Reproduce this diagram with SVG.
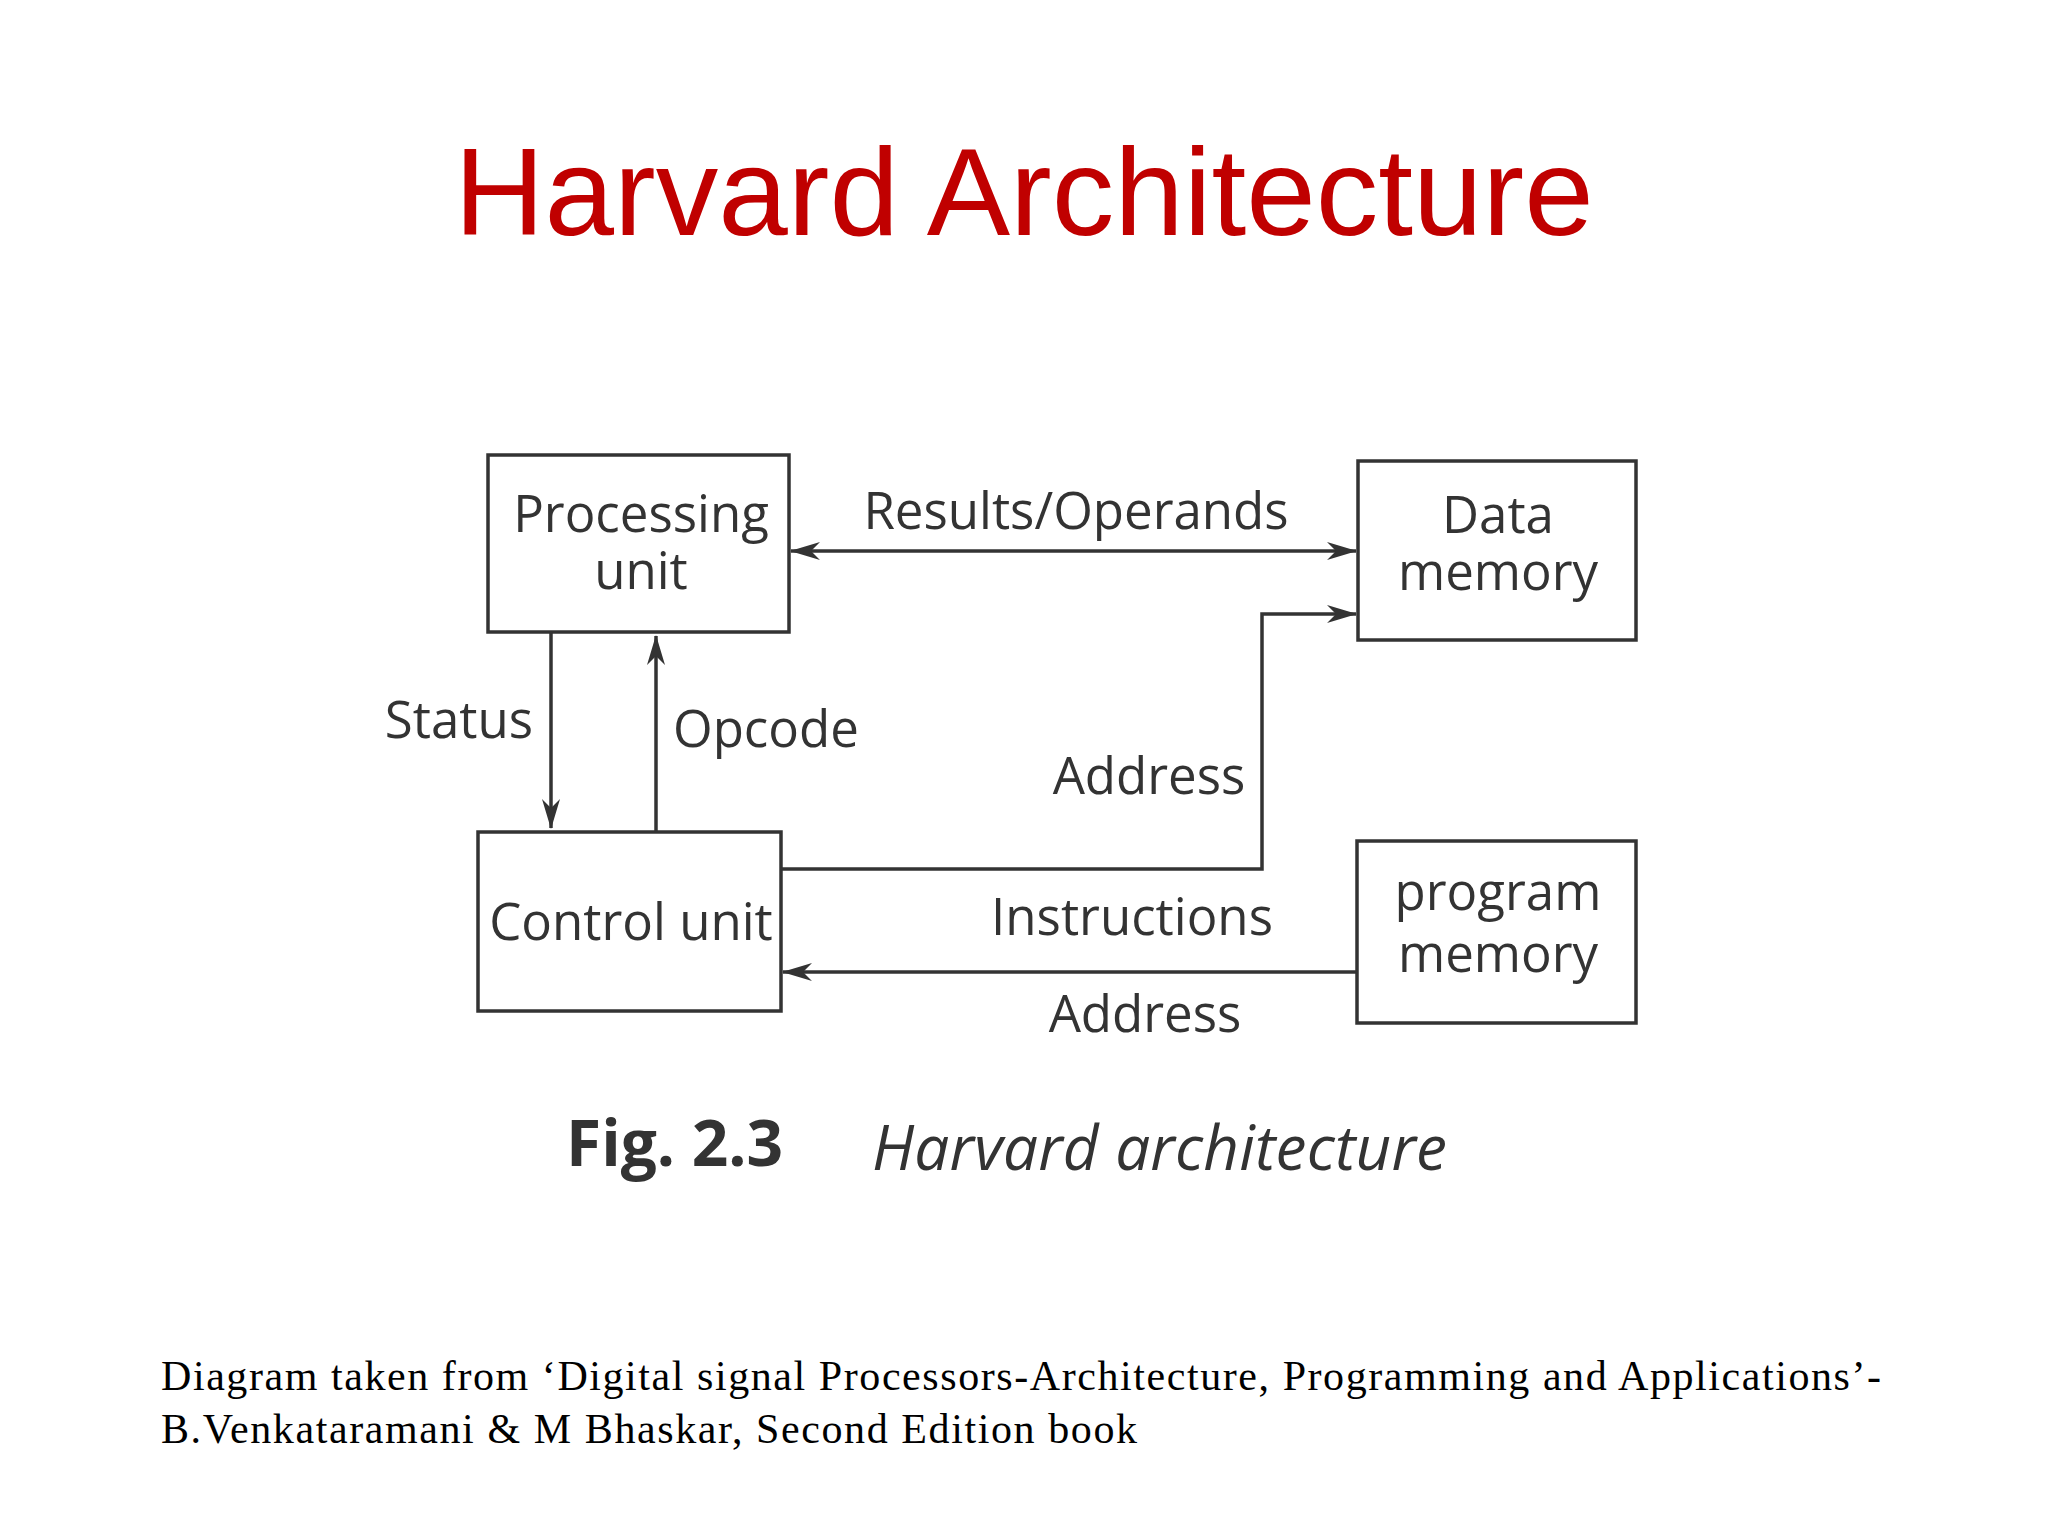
<svg xmlns="http://www.w3.org/2000/svg" width="2048" height="1536" viewBox="0 0 2048 1536">
<style>
.box{fill:none;stroke:#333;stroke-width:3.5}
.ln{fill:none;stroke:#333;stroke-width:3.5}
.t{font-family:"Open Sans","DejaVu Sans",sans-serif;font-size:51px;fill:#333}
</style>
<defs>
<marker id="ah" viewBox="0 0 30 18" refX="29" refY="9" markerWidth="30" markerHeight="18" markerUnits="userSpaceOnUse" orient="auto-start-reverse">
<path d="M0,0 L30,9 L0,18 L9,9 Z" fill="#333"/>
</marker>
</defs>
<rect width="2048" height="1536" fill="#fff"/>
<text x="1024" y="235" text-anchor="middle" font-family="Liberation Sans,Arial,sans-serif" font-size="125" fill="#c00000">Harvard Architecture</text>
<g id="processing"><rect class="box" x="488" y="455" width="301" height="177"/><text class="t" x="641" y="532" text-anchor="middle">Processing</text><text class="t" x="641" y="589" text-anchor="middle">unit</text></g>
<g id="datamem"><rect class="box" x="1358" y="461" width="278" height="179"/><text class="t" x="1498" y="533" text-anchor="middle">Data</text><text class="t" x="1498" y="590" text-anchor="middle">memory</text></g>
<g id="control"><rect class="box" x="478" y="832" width="303" height="179"/><text class="t" x="631" y="940" text-anchor="middle">Control unit</text></g>
<g id="progmem"><rect class="box" x="1357" y="841" width="279" height="182"/><text class="t" x="1498" y="910" text-anchor="middle">program</text><text class="t" x="1498" y="972" text-anchor="middle">memory</text></g>
<g id="connectors">
<line class="ln" x1="791" y1="551" x2="1356" y2="551" marker-start="url(#ah)" marker-end="url(#ah)"/>
<polyline class="ln" points="781,869 1262,869 1262,614 1356,614" marker-end="url(#ah)"/>
<line class="ln" x1="1357" y1="972" x2="783" y2="972" marker-end="url(#ah)"/>
<line class="ln" x1="551" y1="632" x2="551" y2="828" marker-end="url(#ah)"/>
<line class="ln" x1="656" y1="832" x2="656" y2="636" marker-end="url(#ah)"/>
<text class="t" x="1076" y="529" text-anchor="middle">Results/Operands</text>
<text class="t" x="1149" y="794" text-anchor="middle">Address</text>
<text class="t" x="1132" y="935" text-anchor="middle">Instructions</text>
<text class="t" x="1145" y="1032" text-anchor="middle">Address</text>
<text class="t" x="533" y="738" text-anchor="end">Status</text>
<text class="t" x="673" y="747">Opcode</text>
</g>
<text x="566" y="1166" font-family="Open Sans,sans-serif" font-weight="bold" font-size="64" fill="#333">Fig. 2.3</text>
<text x="872" y="1170" font-family="Open Sans,sans-serif" font-style="italic" font-size="62" fill="#333" textLength="575">Harvard architecture</text>
<text x="161" y="1390" font-family="Liberation Serif,Times New Roman,serif" font-size="42" fill="#000" textLength="1720">Diagram taken from ‘Digital signal Processors-Architecture, Programming and Applications’-</text>
<text x="161" y="1443" font-family="Liberation Serif,Times New Roman,serif" font-size="42" fill="#000" textLength="976">B.Venkataramani &amp; M Bhaskar, Second Edition book</text>
</svg>
